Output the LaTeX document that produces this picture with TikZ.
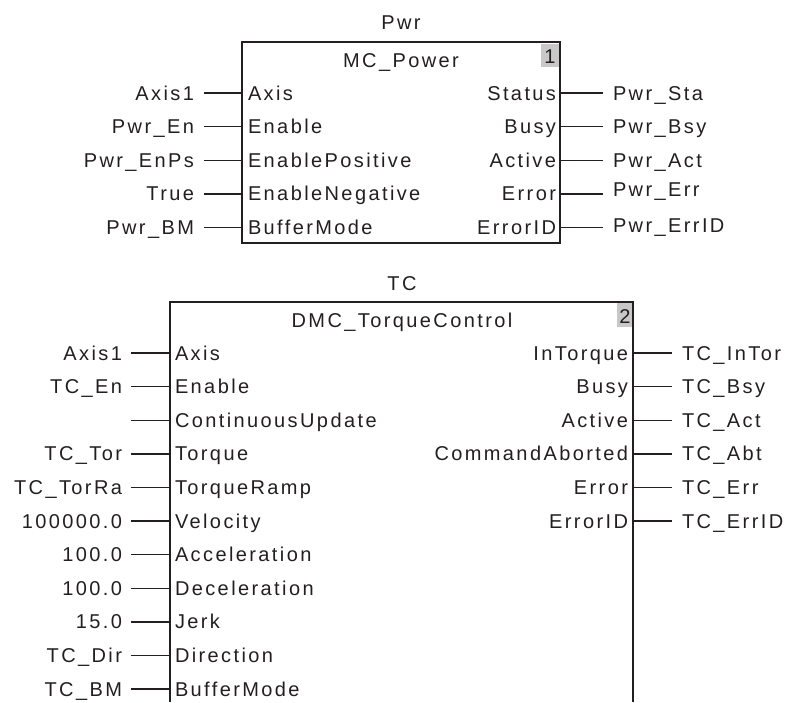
\documentclass[tikz,border=0pt]{standalone}
\usepackage{fontspec}
\setmainfont{Liberation Sans}[LetterSpace=12]
\definecolor{ink}{HTML}{231F20}
\definecolor{numgray}{HTML}{C8C8C8}
\begin{document}
\begin{tikzpicture}[x=1pt,y=-1pt,
  every node/.style={inner sep=0pt,outer sep=0pt,text=ink,font=\fontsize{20}{24}\selectfont},
  wire/.style={draw=ink,line width=1.4pt},
  boxline/.style={draw=ink,line width=1.5pt},
  lbl/.style={anchor=base}]
\useasboundingbox (0,0) rectangle (789,702);

% ---------------- Pwr block ----------------
\node[lbl] (pwrname) at (401,29) {Pwr};
\draw[boxline] (242,42) rectangle (560,243);
\fill[numgray] (541,44) rectangle (559,67);
\node[lbl] (pwrnum) at (550,63) {1};
\node[lbl] (pwrtitle) at (401,67) {MC\_Power};

\foreach \i/\ext/\pin in {0/Axis1/Axis,1/Pwr\_En/Enable,2/Pwr\_EnPs/EnablePositive,3/True/EnableNegative,4/Pwr\_BM/BufferMode}{
  \pgfmathsetmacro{\yy}{93+33.6*\i}
  \coordinate (pwrLa\i) at (204,\yy);
  \coordinate (pwrLb\i) at (242,\yy);
  \node[anchor=base east] (pwrLext\i) at (194,\yy+7) {\ext};
  \node[anchor=base west] (pwrLpin\i) at (248,\yy+7) {\pin};
  \draw[wire] (pwrLa\i) -- (pwrLb\i);
}
\foreach \i/\pin/\ext/\dy in {0/Status/Pwr\_Sta/0,1/Busy/Pwr\_Bsy/0,2/Active/Pwr\_Act/0,3/Error/Pwr\_Err/-4,4/ErrorID/Pwr\_ErrID/-2}{
  \pgfmathsetmacro{\yy}{93+33.6*\i}
  \coordinate (pwrRa\i) at (560,\yy);
  \coordinate (pwrRb\i) at (603,\yy);
  \node[anchor=base east] (pwrRpin\i) at (556,\yy+7) {\pin};
  \node[anchor=base west] (pwrRext\i) at (613,\yy+7+\dy) {\ext};
  \draw[wire] (pwrRa\i) -- (pwrRb\i);
}

% ---------------- TC block ----------------
\node[lbl] (tcname) at (402,290) {TC};
\draw[boxline] (170,702) -- (170,302) -- (633,302) -- (633,702);
\fill[numgray] (617,303) rectangle (632,327);
\node[lbl] (tcnum) at (625,323) {2};
\node[lbl] (tctitle) at (402,327) {DMC\_TorqueControl};

\foreach \i/\ext/\pin in {0/Axis1/Axis,1/TC\_En/Enable,2//ContinuousUpdate,3/TC\_Tor/Torque,4/TC\_TorRa/TorqueRamp,5/100000.0/Velocity,6/100.0/Acceleration,7/100.0/Deceleration,8/15.0/Jerk,9/TC\_Dir/Direction,10/TC\_BM/BufferMode}{
  \pgfmathsetmacro{\yy}{353+33.6*\i}
  \coordinate (tcLa\i) at (131,\yy);
  \coordinate (tcLb\i) at (170,\yy);
  \node[anchor=base east] (tcLext\i) at (122,\yy+7) {\ext};
  \node[anchor=base west] (tcLpin\i) at (175,\yy+7) {\pin};
  \draw[wire] (tcLa\i) -- (tcLb\i);
}
\foreach \i/\pin/\ext in {0/InTorque/TC\_InTor,1/Busy/TC\_Bsy,2/Active/TC\_Act,3/CommandAborted/TC\_Abt,4/Error/TC\_Err,5/ErrorID/TC\_ErrID}{
  \pgfmathsetmacro{\yy}{353+33.6*\i}
  \coordinate (tcRa\i) at (633,\yy);
  \coordinate (tcRb\i) at (672,\yy);
  \node[anchor=base east] (tcRpin\i) at (628,\yy+7) {\pin};
  \node[anchor=base west] (tcRext\i) at (682,\yy+7) {\ext};
  \draw[wire] (tcRa\i) -- (tcRb\i);
}
\end{tikzpicture}
\end{document}
